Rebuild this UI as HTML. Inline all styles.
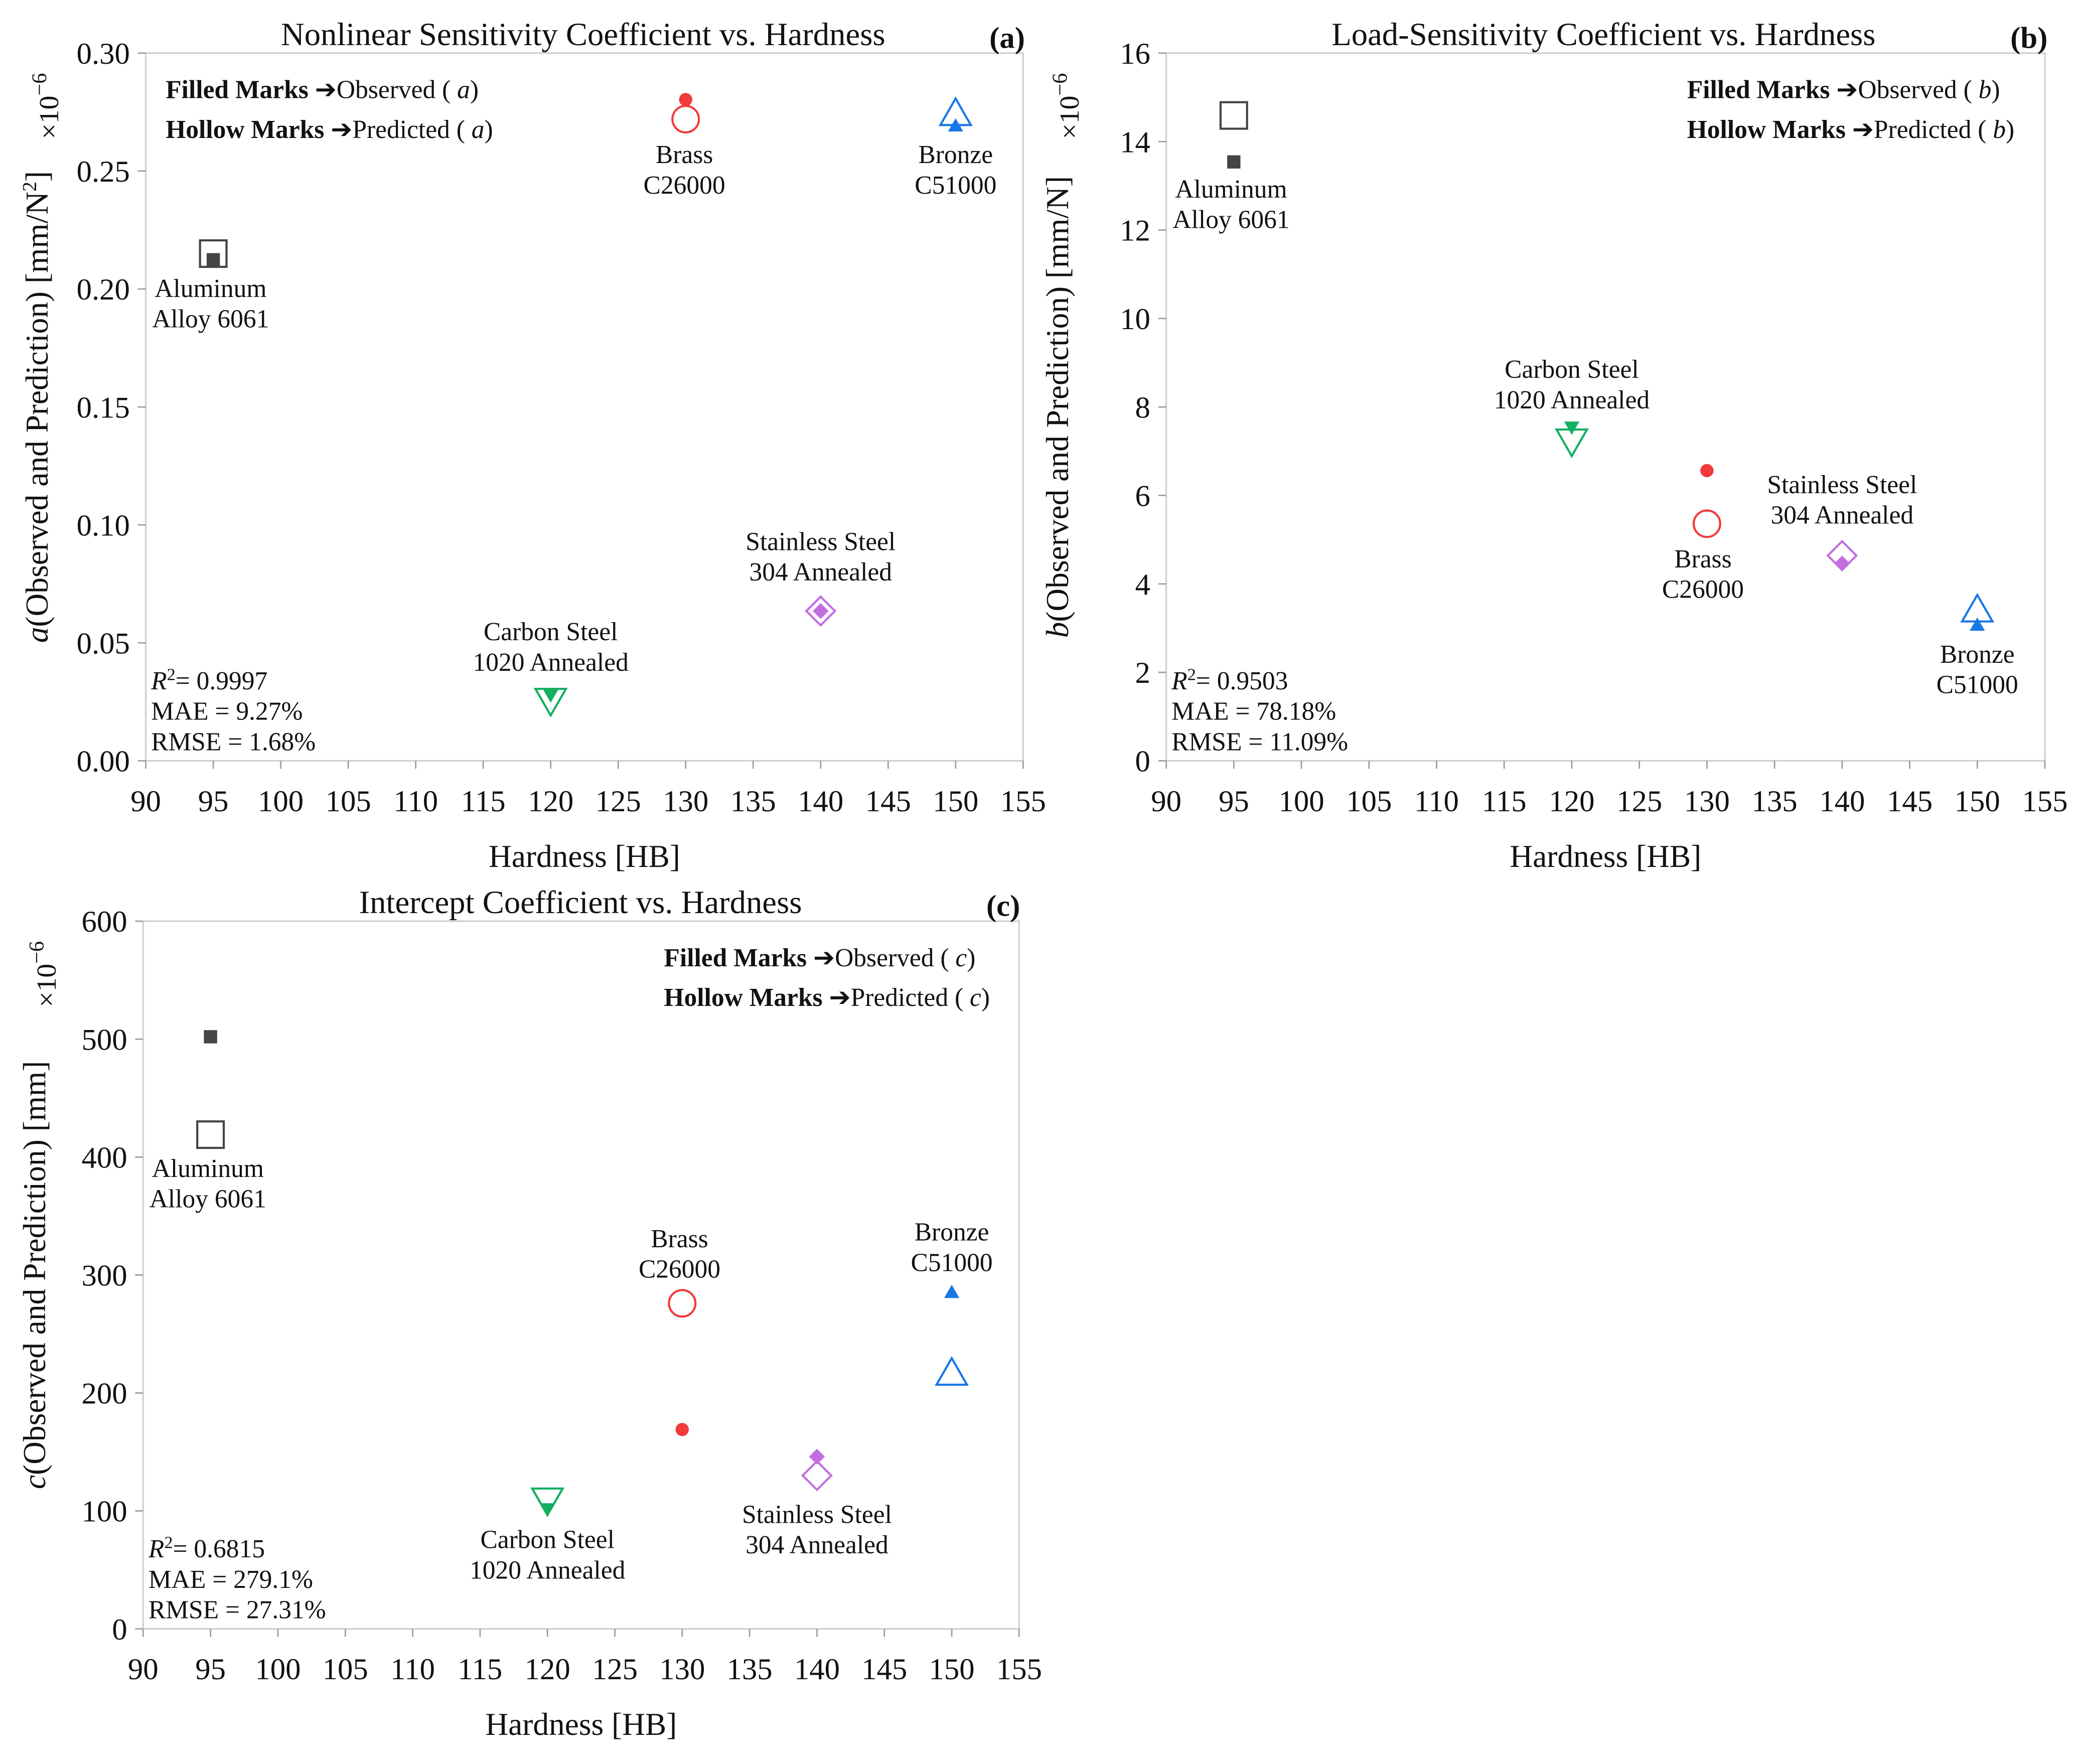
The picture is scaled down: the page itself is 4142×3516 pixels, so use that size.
<!DOCTYPE html>
<html><head><meta charset="utf-8">
<style>
html,body{margin:0;padding:0;background:#fff;}
svg, svg text{font-family:"Liberation Serif","Times New Roman",serif;}
</style></head>
<body>
<svg id="chart" width="4142" height="3511" viewBox="0 0 1568 1329" xmlns="http://www.w3.org/2000/svg" font-family="Liberation Serif, serif"></svg>
<script>
const materials = ["Aluminum Alloy 6061","Carbon Steel 1020 Annealed","Brass C26000","Stainless Steel 304 Annealed","Bronze C51000"];
const hardness = [95,120,130,140,150];
const aObserved = [0.2124,0.028,0.2803,0.0635,0.269];
const aPredicted = [0.215,0.026,0.272,0.0635,0.274];
const bObserved = [13.54,7.55,6.56,4.46,3.06];
const bPredicted = [14.59,7.25,5.36,4.64,3.39];
const cObserved = [502,102,169,146,285];
const cPredicted = [419,110,276,130,216];
const xTicks = [90,95,100,105,110,115,120,125,130,135,140,145,150,155];
const aTicks = ["0.00","0.05","0.10","0.15","0.20","0.25","0.30"];
const bTicks = ["0","2","4","6","8","10","12","14","16"];
const cTicks = ["0","100","200","300","400","500","600"];
const colors = ["#444444","#12b061","#f23b3b","#c36ee0","#1878e6"];
const shapes = ["square","tri-down","circle","diamond","tri-up"];

const NS="http://www.w3.org/2000/svg";
const svg=document.getElementById('chart');
function el(tag,attrs,parent){const e=document.createElementNS(NS,tag);for(const k in attrs)e.setAttribute(k,attrs[k]);(parent||svg).appendChild(e);return e;}
function txt(s,attrs,parent){const t=el('text',Object.assign({'font-size':20,fill:'#111','font-family':'Liberation Serif, serif'},attrs),parent);t.innerHTML=s;return t;}

function marker(g,shape,x,y,r,filled,color){
  const st=filled?{fill:color,stroke:'none'}:{fill:'none',stroke:color,'stroke-width':1.6};
  let m;
  if(shape==='square')m=el('rect',Object.assign({x:x-r,y:y-r,width:2*r,height:2*r},st),g);
  else if(shape==='circle')m=el('circle',Object.assign({cx:x,cy:y,r:r},st),g);
  else if(shape==='diamond')m=el('polygon',Object.assign({points:`${x},${y-r*1.2} ${x+r*1.2},${y} ${x},${y+r*1.2} ${x-r*1.2},${y}`},st),g);
  else if(shape==='tri-up')m=el('polygon',Object.assign({points:`${x},${y-r*1.2} ${x+r*1.15},${y+r*0.8} ${x-r*1.15},${y+r*0.8}`},st),g);
  else m=el('polygon',Object.assign({points:`${x},${y+r*1.2} ${x+r*1.15},${y-r*0.8} ${x-r*1.15},${y-r*0.8}`},st),g);
  return m;
}

function panel(cfg){
  const g=el('g',{});
  
  
  const {x0,x1,y0,y1,ymax}=cfg;
  const sx=v=>x0+(v-90)/65*(x1-x0);
  const sy=v=>y0-(v/ymax)*(y0-y1);
  const frame=el('rect',{x:x0,y:y1,width:x1-x0,height:y0-y1,fill:'none',stroke:'#cfcfcf','stroke-width':1.2},g);
  
  
  xTicks.forEach(v=>{
    el('line',{x1:sx(v),x2:sx(v),y1:y0,y2:y0+6,stroke:'#999'},g);
    const t=txt(v,{x:sx(v),y:y0+38,'text-anchor':'middle','font-size':23},g);
    
    
  });
  cfg.ticks.forEach(s=>{
    const v=parseFloat(s);
    el('line',{x1:x0-6,x2:x0,y1:sy(v),y2:sy(v),stroke:'#999'},g);
    const t=txt(s,{x:x0-12,y:sy(v)+8,'text-anchor':'end','font-size':23},g);
    
    
  });
  const xt=txt('Hardness [HB]',{x:(x0+x1)/2,y:y0+80,'text-anchor':'middle','font-size':24},g);
  
  
  const yt=txt(cfg.ylabel,{x:0,y:0,'text-anchor':'middle','font-size':24,transform:`translate(${x0-74},${(y0+y1)/2}) rotate(-90)`},g);
  
  
  const sc=txt('×10<tspan dy="-9" font-size="16">−6</tspan>',{x:0,y:0,'text-anchor':'middle','font-size':21,transform:`translate(${x0-66},${y1+40}) rotate(-90)`},g);
  
  
  const tt=txt(cfg.title,{x:cfg.titleX,y:y1-6,'text-anchor':'middle','font-size':24.5},g);
  
  
  const pl=txt(cfg.tag,{x:x1-12,y:y1-4,'text-anchor':'middle','font-size':23,'font-weight':'bold'},g);
  
  
  const l1=txt(`<tspan font-weight="bold">Filled Marks</tspan> ➔Observed ( <tspan font-style="italic">${cfg.v}</tspan>)`,{x:cfg.legX,y:y1+34,'font-size':19.5},g);
  
  
  const l2=txt(`<tspan font-weight="bold">Hollow Marks</tspan> ➔Predicted ( <tspan font-style="italic">${cfg.v}</tspan>)`,{x:cfg.legX,y:y1+64,'font-size':19.5},g);
  
  
  cfg.stats.forEach((s,i)=>{
    const t=txt(s,{x:x0+4,y:y0-54+i*23,'font-size':19.5},g);
    
    
  });
  materials.forEach((m,i)=>{
    const hp=marker(g,shapes[i],sx(hardness[i]),sy(cfg.pred[i]),shapes[i]==='diamond'?9:10,false,colors[i]);
    
    
    const fp=marker(g,shapes[i],sx(hardness[i]),sy(cfg.obs[i]),5,true,colors[i]);
    
    
    const lb=cfg.labels[i];
    const words=m.split(' ');
    const lines=[words.slice(0,-1).join(' '),words[words.length-1]];
    if(i===0){lines[0]='Aluminum';lines[1]='Alloy 6061';}
    if(i===1){lines[0]='Carbon Steel';lines[1]='1020 Annealed';}
    if(i===3){lines[0]='Stainless Steel';lines[1]='304 Annealed';}
    lines.forEach((ln,k)=>{
      const t=txt(ln,{x:sx(hardness[i])+lb[0],y:lb[1]+k*23,'text-anchor':'middle','font-size':19.5},g);
      
      
    });
  });
}

panel({name:'panel-a',x0:110,x1:772,y0:574,y1:40,ymax:0.30,ticks:aTicks,obs:aObserved,pred:aPredicted,v:'a',
  ylabel:'<tspan font-style="italic">a</tspan>(Observed and Prediction) [mm/N<tspan dy="-9" font-size="15">2</tspan><tspan dy="9">]</tspan>',
  title:'Nonlinear Sensitivity Coefficient vs. Hardness',titleX:440,tag:'(a)',legX:125,
  stats:['<tspan font-style="italic">R</tspan><tspan dy="-7" font-size="13">2</tspan><tspan dy="7">= 0.9997</tspan>','MAE = 9.27%','RMSE = 1.68%'],
  labels:[[-2,224],[0,483],[-1,123],[0,415],[0,123]]});
panel({name:'panel-b',x0:880,x1:1543,y0:574,y1:40,ymax:16,ticks:bTicks,obs:bObserved,pred:bPredicted,v:'b',
  ylabel:'<tspan font-style="italic">b</tspan>(Observed and Prediction) [mm/N]',
  title:'Load-Sensitivity Coefficient vs. Hardness',titleX:1210,tag:'(b)',legX:1273,
  stats:['<tspan font-style="italic">R</tspan><tspan dy="-7" font-size="13">2</tspan><tspan dy="7">= 0.9503</tspan>','MAE = 78.18%','RMSE = 11.09%'],
  labels:[[-2,149],[0,285],[-3,428],[0,372],[0,500]]});
panel({name:'panel-c',x0:108,x1:769,y0:1229,y1:695,ymax:600,ticks:cTicks,obs:cObserved,pred:cPredicted,v:'c',
  ylabel:'<tspan font-style="italic">c</tspan>(Observed and Prediction) [mm]',
  title:'Intercept Coefficient vs. Hardness',titleX:438,tag:'(c)',legX:501,
  stats:['<tspan font-style="italic">R</tspan><tspan dy="-7" font-size="13">2</tspan><tspan dy="7">= 0.6815</tspan>','MAE = 279.1%','RMSE = 27.31%'],
  labels:[[-2,888],[0,1168],[-2,941],[0,1149],[0,936]]});
</script>
</body></html>
